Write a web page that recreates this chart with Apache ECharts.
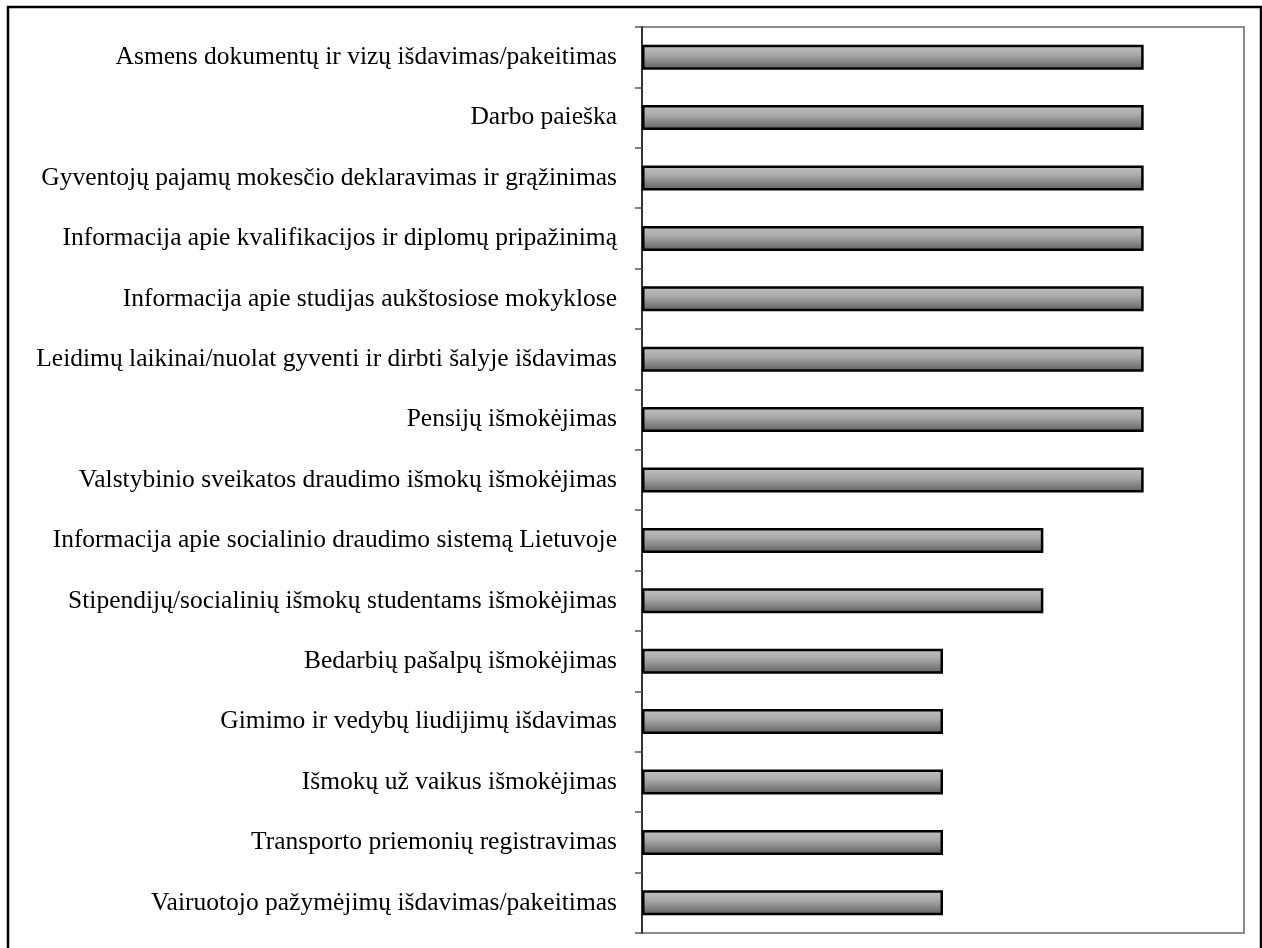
<!DOCTYPE html>
<html>
<head>
<meta charset="utf-8">
<script src="https://cdn.jsdelivr.net/npm/echarts@6/dist/echarts.min.js"></script>
<style>
html,body{margin:0;padding:0;background:#fff;}
#chart{width:1262px;height:948px;}
</style>
</head>
<body>
<div id="chart"></div>
<script>
const categories = [
  'Asmens dokumentų ir vizų išdavimas/pakeitimas',
  'Darbo paieška',
  'Gyventojų pajamų mokesčio deklaravimas ir grąžinimas',
  'Informacija apie kvalifikacijos ir diplomų pripažinimą',
  'Informacija apie studijas aukštosiose mokyklose',
  'Leidimų laikinai/nuolat gyventi ir dirbti šalyje išdavimas',
  'Pensijų išmokėjimas',
  'Valstybinio sveikatos draudimo išmokų išmokėjimas',
  'Informacija apie socialinio draudimo sistemą Lietuvoje',
  'Stipendijų/socialinių išmokų studentams išmokėjimas',
  'Bedarbių pašalpų išmokėjimas',
  'Gimimo ir vedybų liudijimų išdavimas',
  'Išmokų už vaikus išmokėjimas',
  'Transporto priemonių registravimas',
  'Vairuotojo pažymėjimų išdavimas/pakeitimas'
];
const values = [5, 5, 5, 5, 5, 5, 5, 5, 4, 4, 3, 3, 3, 3, 3];
const axisMax = 6;

const chart = echarts.init(document.getElementById('chart'), null, {renderer: 'canvas'});
chart.setOption({
  animation: false,
  backgroundColor: '#ffffff',
  graphic: [{
    type: 'rect',
    shape: {x: 8, y: 7, width: 1253, height: 960},
    style: {fill: 'none', stroke: '#000', lineWidth: 2.5},
    silent: true
  }],
  grid: {
    left: 642, right: 18, top: 27, bottom: 15,
    show: true, borderColor: '#8c8c8c', borderWidth: 2,
    backgroundColor: 'transparent'
  },
  xAxis: {
    type: 'value', min: 0, max: axisMax,
    axisLine: {show: false}, axisTick: {show: false},
    axisLabel: {show: false}, splitLine: {show: false}
  },
  yAxis: {
    type: 'category', data: categories, inverse: true,
    axisLine: {show: true, lineStyle: {color: '#333', width: 2}},
    axisTick: {show: true, length: 7, lineStyle: {color: '#555', width: 1.5}},
    axisLabel: {
      color: '#000', fontFamily: 'Liberation Serif', fontSize: 25.5, margin: 25
    }
  },
  series: [{
    type: 'bar', data: values, barWidth: 25,
    itemStyle: {
      color: new echarts.graphic.LinearGradient(0, 0, 0, 1, [
        {offset: 0, color: '#c2c2c2'},
        {offset: 0.4, color: '#a9a9a9'},
        {offset: 1, color: '#5e5e5e'}
      ]),
      borderColor: '#000', borderWidth: 2.5
    }
  }]
});
</script>
</body>
</html>
